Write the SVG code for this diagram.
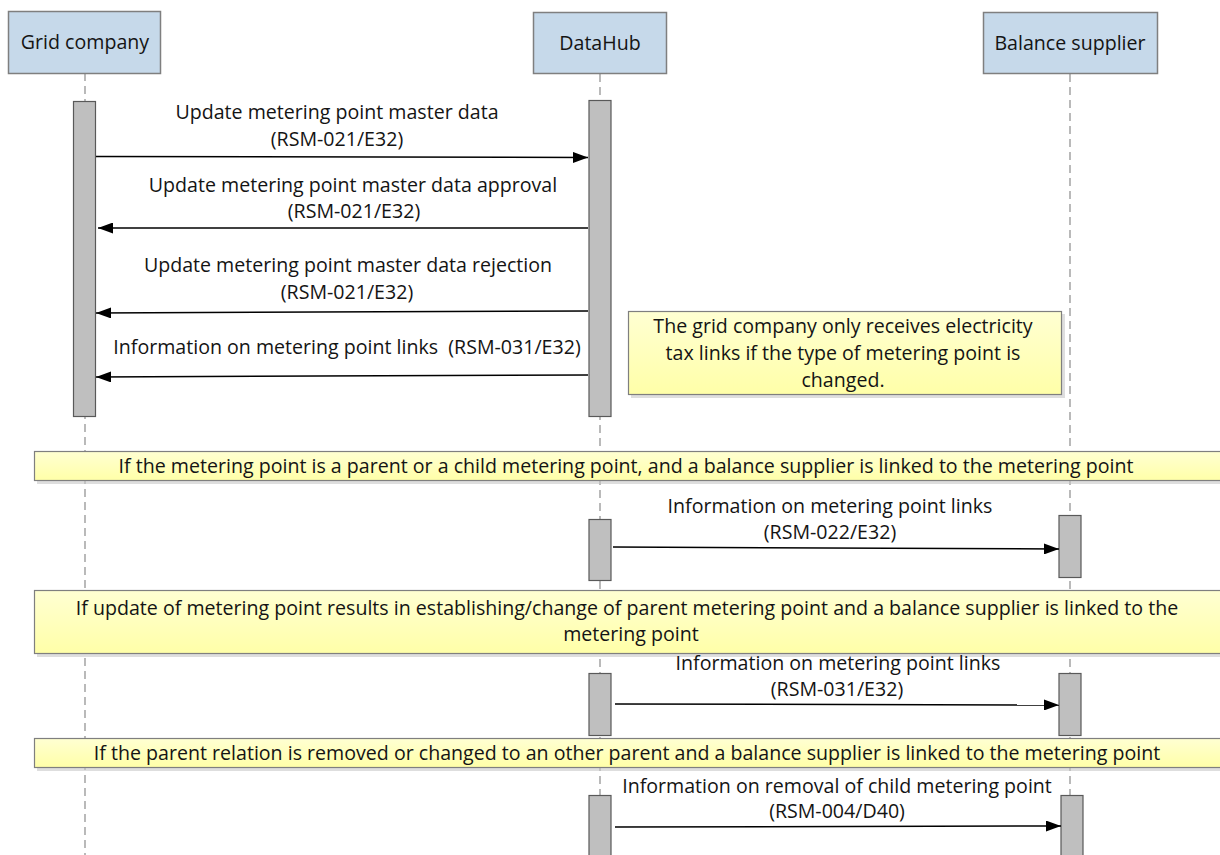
<svg xmlns="http://www.w3.org/2000/svg" width="1220" height="855" viewBox="0 0 1220 855">
  <defs>
    <style>
      text { font-family: "Open Sans", "Liberation Sans", sans-serif; font-size: 19.6px; fill: #141414; text-anchor: middle; }
      .pre { white-space: pre; }
      .actor { fill: #c6d9ea; stroke: #7f7f7f; stroke-width: 1.5; }
      .life { stroke: #8c8c8c; stroke-width: 1.2; stroke-dasharray: 8 5; fill: none; }
      .act { fill: #bfbfbf; stroke: #595959; stroke-width: 1.2; }
      .msg { stroke: #000; stroke-width: 1.5; fill: none; marker-end: url(#head); }
      .frame { fill: url(#yellow); stroke: #7f7f7f; stroke-width: 1.2; }
      .shadow { fill: #c8c8c8; opacity: 0.6; }
    </style>
    <linearGradient id="yellow" x1="0" y1="0" x2="0" y2="1">
      <stop offset="0" stop-color="#ffffd2"/>
      <stop offset="1" stop-color="#ffffa8"/>
    </linearGradient>
    <marker id="head" viewBox="0 0 15 11" refX="15" refY="5.5" markerWidth="15" markerHeight="11" markerUnits="userSpaceOnUse" orient="auto">
      <path d="M0,0 L15,5.5 L0,11 Z" fill="#000"/>
    </marker>
  </defs>

  <!-- lifelines -->
  <g id="lifelines">
    <line class="life" x1="85" y1="73" x2="85" y2="855"/>
    <line class="life" x1="600" y1="74" x2="600" y2="855"/>
    <line class="life" x1="1070" y1="74" x2="1070" y2="855"/>
  </g>

  <!-- participants -->
  <g id="grid-company">
    <rect class="actor" x="8.5" y="11.5" width="152" height="62"/>
    <text x="85" y="49">Grid company</text>
  </g>
  <g id="datahub">
    <rect class="actor" x="533.5" y="12.5" width="133" height="61"/>
    <text x="600" y="50">DataHub</text>
  </g>
  <g id="balance-supplier">
    <rect class="actor" x="983.5" y="12.5" width="174" height="61"/>
    <text x="1070" y="50">Balance supplier</text>
  </g>

  <!-- activation bars -->
  <g id="activations">
    <rect class="act" x="73.5" y="101.5" width="22" height="315"/>
    <rect class="act" x="589" y="100.5" width="22" height="316"/>
    <rect class="act" x="589" y="519.5" width="22" height="61"/>
    <rect class="act" x="1059" y="515.5" width="22" height="62"/>
    <rect class="act" x="589" y="673.5" width="22" height="62"/>
    <rect class="act" x="1059" y="673.5" width="22" height="62"/>
    <rect class="act" x="589" y="795.5" width="22" height="70"/>
    <rect class="act" x="1061" y="795.5" width="22" height="70"/>
  </g>

  <!-- note -->
  <g id="note-electricity-tax">
    <rect class="shadow" x="631" y="314" width="434" height="84"/>
    <rect class="frame" x="628.5" y="311.5" width="433" height="83"/>
    <text x="843" y="333">The grid company only receives electricity</text>
    <text x="843" y="360">tax links if the type of metering point is</text>
    <text x="843" y="387">changed.</text>
  </g>

  <!-- condition frames -->
  <g id="frame-parent-child">
    <rect class="shadow" x="37" y="454" width="1190" height="30"/>
    <rect class="frame" x="34.5" y="451.5" width="1190" height="29"/>
    <text x="626" y="473">If the metering point is a parent or a child metering point, and a balance supplier is linked to the metering point</text>
  </g>
  <g id="frame-establish-parent">
    <rect class="shadow" x="37" y="593" width="1190" height="64"/>
    <rect class="frame" x="34.5" y="590.5" width="1190" height="63"/>
    <text x="627" y="615">If update of metering point results in establishing/change of parent metering point and a balance supplier is linked to the</text>
    <text x="631" y="641">metering point</text>
  </g>
  <g id="frame-parent-removed">
    <rect class="shadow" x="37" y="741" width="1190" height="30"/>
    <rect class="frame" x="34.5" y="738.5" width="1190" height="29"/>
    <text x="627" y="760">If the parent relation is removed or changed to an other parent and a balance supplier is linked to the metering point</text>
  </g>

  <!-- messages -->
  <g id="connectors">
    <line class="msg" x1="96" y1="156.5" x2="588" y2="157.5"/>
    <line class="msg" x1="588" y1="228" x2="98" y2="228"/>
    <line class="msg" x1="588" y1="311" x2="96" y2="313"/>
    <line class="msg" x1="588" y1="375" x2="96" y2="377"/>
    <line class="msg" x1="613" y1="547" x2="1059" y2="549"/>
    <line class="msg" x1="615" y1="704" x2="1059" y2="705"/>
    <line class="msg" x1="615" y1="827" x2="1061" y2="826"/>
  </g>

  <!-- message labels -->
  <g id="labels">
    <text x="337" y="119">Update metering point master data</text>
    <text x="337" y="146">(RSM-021/E32)</text>
    <text x="353" y="192">Update metering point master data approval</text>
    <text x="354" y="218">(RSM-021/E32)</text>
    <text x="348" y="272">Update metering point master data rejection</text>
    <text x="347" y="299">(RSM-021/E32)</text>
    <text class="pre" x="347" y="354">Information on metering point links  (RSM-031/E32)</text>
    <text x="830" y="513">Information on metering point links</text>
    <text x="830" y="539">(RSM-022/E32)</text>
    <text x="838" y="670">Information on metering point links</text>
    <text x="837" y="696">(RSM-031/E32)</text>
    <text x="837" y="793">Information on removal of child metering point</text>
    <text x="837" y="818">(RSM-004/D40)</text>
  </g>
</svg>
